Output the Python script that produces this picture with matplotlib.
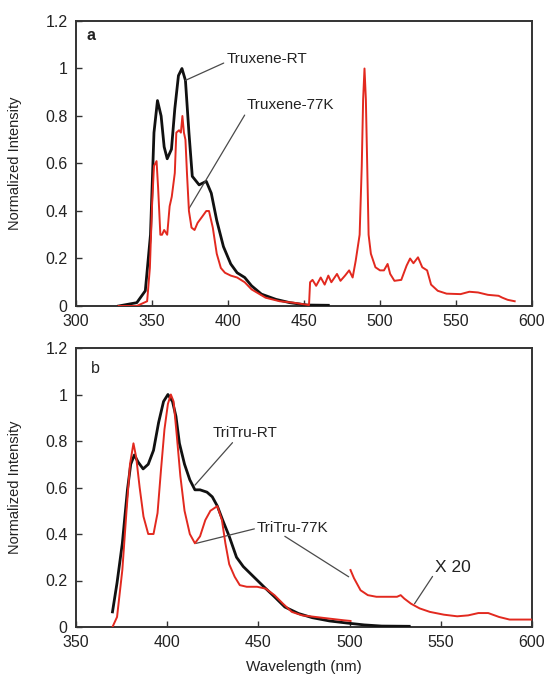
import matplotlib
matplotlib.use("Agg")
import matplotlib.pyplot as plt

plt.rcParams['font.family'] = ['Liberation Sans', 'DejaVu Sans']

# ---- Panel a: Truxene emission ----
truxene_rt_wl = [328, 340, 345.6, 349, 351.3, 353.6, 356, 358, 360, 362.8, 365, 367.4,
                 369.7, 372, 374.3, 376.5, 381, 385.7, 389, 392.6, 397, 401.8, 406,
                 411, 415.5, 422, 431.5, 440.7, 452, 466]
truxene_rt_int = [0.0, 0.014, 0.064, 0.30, 0.73, 0.865, 0.80, 0.67, 0.62, 0.66, 0.83,
                  0.97, 1.0, 0.95, 0.73, 0.546, 0.51, 0.525, 0.475, 0.36, 0.25, 0.177,
                  0.14, 0.12, 0.085, 0.05, 0.028, 0.014, 0.004, 0.003]

truxene_77k_wl = [328, 340, 346.8, 348.6, 350, 351.3, 353, 354, 355.5, 356.6, 358, 360,
                  361.6, 363, 365, 366, 367.8, 369, 370, 371, 372, 373, 374.3, 376,
                  378, 380, 383, 385.7, 387.5, 390, 392.6, 395.3, 398, 401.8, 406, 411,
                  415.5, 424.7, 434, 443, 450, 453.3, 454, 455.6, 458, 461, 463.6, 466,
                  468, 471.7, 474, 477, 479.7, 482, 484, 486.6, 488, 488.9, 489.8,
                  490.7, 491.6, 492.5, 494, 497, 500, 502.6, 505, 506.7, 509.5, 514,
                  517.5, 519.8, 522, 525, 527.8, 531, 533.6, 538, 543.8, 553, 558.8,
                  564.5, 571, 578, 580.5, 584, 588.6]
truxene_77k_int = [0.0, 0.0, 0.02, 0.16, 0.42, 0.59, 0.61, 0.50, 0.30, 0.30, 0.32, 0.30,
                   0.42, 0.46, 0.56, 0.73, 0.74, 0.73, 0.80, 0.73, 0.70, 0.56, 0.40,
                   0.33, 0.32, 0.35, 0.376, 0.40, 0.40, 0.33, 0.22, 0.16, 0.14, 0.128,
                   0.12, 0.10, 0.07, 0.035, 0.02, 0.014, 0.007, 0.004, 0.10, 0.11,
                   0.085, 0.12, 0.09, 0.128, 0.10, 0.135, 0.106, 0.128, 0.15, 0.12,
                   0.19, 0.30, 0.59, 0.87, 1.0, 0.87, 0.59, 0.30, 0.22, 0.163, 0.15,
                   0.15, 0.177, 0.135, 0.106, 0.11, 0.17, 0.20, 0.18, 0.205, 0.163,
                   0.15, 0.09, 0.064, 0.052, 0.05, 0.06, 0.057, 0.047, 0.043, 0.035,
                   0.026, 0.02]

# ---- Panel b: TriTru emission ----
tritru_rt_wl = [370, 372.5, 375.4, 378.2, 380, 382, 384, 386.8, 389.6, 392.5, 395.3,
                398, 400.4, 402.9, 404.8, 406.7, 409.5, 412.4, 415.2, 418, 421.8,
                424.7, 427.5, 430.4, 434, 438, 441.7, 447.4, 453, 458.8, 464.5, 472,
                479.6, 489, 498.6, 508, 517.6, 532.7]
tritru_rt_int = [0.065, 0.19, 0.36, 0.59, 0.70, 0.74, 0.71, 0.68, 0.70, 0.76, 0.88,
                 0.97, 1.0, 0.97, 0.906, 0.79, 0.70, 0.633, 0.59, 0.59, 0.58, 0.56,
                 0.52, 0.46, 0.39, 0.30, 0.26, 0.216, 0.173, 0.13, 0.086, 0.058, 0.04,
                 0.026, 0.017, 0.009, 0.004, 0.003]

tritru_77k_wl = [370, 372.5, 375.4, 377.7, 379.6, 381.5, 383, 384.9, 387, 389.6, 392.5,
                 394.7, 396.6, 398.5, 400.4, 402, 403.5, 405.3, 407.2, 409.5, 412.4,
                 415.2, 418, 420.9, 423.7, 427.5, 430, 431.9, 434, 437, 439.8, 443.6,
                 449.3, 454, 458.8, 463.5, 468.3, 474, 481.5, 489, 496.7, 500.5]
tritru_77k_int = [0.0, 0.043, 0.245, 0.50, 0.70, 0.79, 0.73, 0.60, 0.475, 0.40, 0.40,
                  0.49, 0.676, 0.85, 0.96, 1.0, 0.97, 0.82, 0.65, 0.50, 0.40, 0.36,
                  0.39, 0.46, 0.50, 0.52, 0.46, 0.36, 0.27, 0.216, 0.18, 0.173, 0.173,
                  0.165, 0.137, 0.10, 0.065, 0.05, 0.043, 0.036, 0.029, 0.026]

# tail of the 77K spectrum, magnified x20
tritru_77k_x20_wl = [500.5, 502.4, 506, 510, 514.7, 521.3, 526, 528, 530, 533.7, 538.4,
                     544, 551.7, 559, 565, 570.6, 576, 582, 587.7, 600]
tritru_77k_x20_int = [0.245, 0.21, 0.158, 0.137, 0.13, 0.13, 0.13, 0.137, 0.122, 0.10,
                      0.08, 0.065, 0.053, 0.046, 0.05, 0.06, 0.06, 0.043, 0.032, 0.032]

y_ticks = [0, 0.2, 0.4, 0.6, 0.8, 1.0, 1.2]
y_tick_labels = ['0', '0.2', '0.4', '0.6', '0.8', '1', '1.2']
xticks_a = [300, 350, 400, 450, 500, 550, 600]
xticks_b = [350, 400, 450, 500, 550, 600]

RED = '#e2291f'
BLACK = '#111111'
LEADER = '#4a4a4a'
TXT = '#222222'

fig = plt.figure(figsize=(5.48, 6.80), dpi=100)
ax_a = fig.add_axes([76 / 548, 1 - 306 / 680, 456 / 548, 285 / 680])
ax_b = fig.add_axes([76 / 548, 1 - 627 / 680, 456 / 548, 279 / 680])


def style_axes(ax, xlim, xticks):
    ax.set_xlim(*xlim)
    ax.set_ylim(0, 1.2)
    ax.set_xticks(xticks)
    ax.set_yticks(y_ticks)
    ax.set_yticklabels(y_tick_labels)
    ax.tick_params(direction='in', length=4, width=1, labelsize=11.5,
                   labelcolor=TXT, color='#333333', pad=6)
    for s in ax.spines.values():
        s.set_linewidth(1.4)
        s.set_color('#333333')
    ax.set_ylabel('Normalized Intensity', fontsize=10.5, color=TXT)
    ax.yaxis.set_label_coords(-0.118, 0.5)


# Panel a
ax_a.plot(truxene_rt_wl, truxene_rt_int, color=BLACK, lw=2.0, zorder=3)
ax_a.plot(truxene_77k_wl, truxene_77k_int, color=RED, lw=1.4, zorder=4)
style_axes(ax_a, (300, 600), xticks_a)
ax_a.text(307, 1.14, 'a', fontsize=11.5, fontweight='bold', color=TXT, va='center')
ax_a.annotate('Truxene-RT', xy=(372, 0.95), xytext=(399, 1.04), fontsize=11,
              color=TXT, va='center',
              arrowprops=dict(arrowstyle='-', color=LEADER, lw=0.9,
                              shrinkA=0, shrinkB=0, relpos=(0, 0.3)))
ax_a.annotate('Truxene-77K', xy=(374.3, 0.41), xytext=(412, 0.845), fontsize=11,
              color=TXT, va='center',
              arrowprops=dict(arrowstyle='-', color=LEADER, lw=0.9,
                              shrinkA=0, shrinkB=0, relpos=(0.02, 0.2)))

# Panel b
ax_b.plot(tritru_rt_wl, tritru_rt_int, color=BLACK, lw=2.0, zorder=3)
ax_b.plot(tritru_77k_wl, tritru_77k_int, color=RED, lw=1.4, zorder=4)
ax_b.plot(tritru_77k_x20_wl, tritru_77k_x20_int, color=RED, lw=1.4, zorder=4)
style_axes(ax_b, (350, 600), xticks_b)
ax_b.set_xlabel('Wavelength (nm)', fontsize=11, color=TXT)
ax_b.xaxis.set_label_coords(0.5, -0.118)
ax_b.text(358, 1.11, 'b', fontsize=11.5, color=TXT, va='center')
ax_b.annotate('TriTru-RT', xy=(415.2, 0.61), xytext=(424.7, 0.835), fontsize=11,
              color=TXT, va='center',
              arrowprops=dict(arrowstyle='-', color=LEADER, lw=0.9,
                              shrinkA=0, shrinkB=0, relpos=(0.35, 0.0)))
ax_b.annotate('TriTru-77K', xy=(416, 0.36), xytext=(449.3, 0.425), fontsize=11,
              color=TXT, va='center',
              arrowprops=dict(arrowstyle='-', color=LEADER, lw=0.9,
                              shrinkA=0, shrinkB=0, relpos=(0.0, 0.5)))
ax_b.annotate('', xy=(499.5, 0.216), xytext=(464.5, 0.39),
              arrowprops=dict(arrowstyle='-', color=LEADER, lw=0.9,
                              shrinkA=0, shrinkB=0))
ax_b.annotate('X 20', xy=(535.6, 0.10), xytext=(547, 0.255), fontsize=12.5,
              color=TXT, va='center',
              arrowprops=dict(arrowstyle='-', color=LEADER, lw=0.9,
                              shrinkA=0, shrinkB=0, relpos=(0.0, 0.2)))

fig.savefig('out.png', dpi=100, facecolor='white')
